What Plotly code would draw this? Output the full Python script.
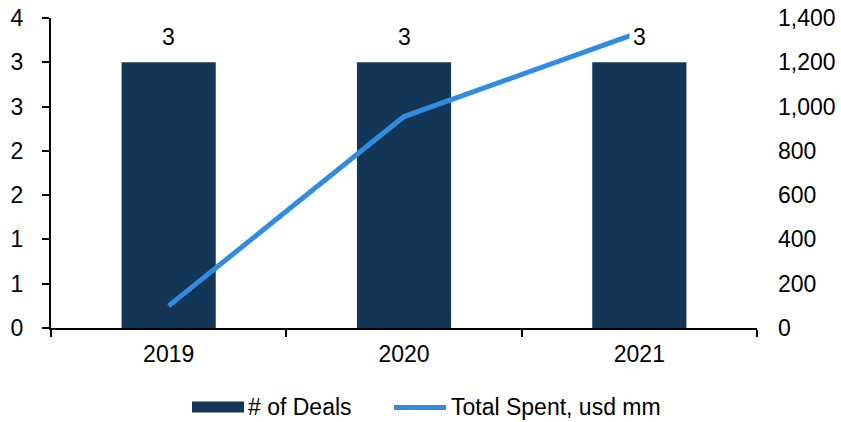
import plotly.graph_objects as go

# Chart data
years = ["2019", "2020", "2021"]
deals = [3, 3, 3]
total_spent = [100, 955, 1335]

# Left axis: half-step ticks, labels shown rounded to whole numbers
left_tick_vals = [0, 0.5, 1, 1.5, 2, 2.5, 3, 3.5]
left_tick_text = ["0", "1", "1", "2", "2", "3", "3", "4"]
right_tick_vals = [0, 200, 400, 600, 800, 1000, 1200, 1400]
right_tick_text = ["0", "200", "400", "600", "800", "1,000", "1,200", "1,400"]

BAR_COLOR = "#133657"
LINE_COLOR = "#318CE0"
FONT = "Liberation Sans, Arial, sans-serif"
FS = 23

W, H = 841, 422
ML, MR, MT, MB = 51, 84, 18, 94
PW, PH = W - ML - MR, H - MT - MB


def px_x(x):
    return (x - ML) / PW


def px_y(y):
    return (H - MB - y) / PH


fig = go.Figure()
fig.add_trace(go.Bar(
    x=years, y=deals, name="# of Deals",
    marker=dict(color=BAR_COLOR, line=dict(width=0)),
    showlegend=False,
))
fig.add_trace(go.Scatter(
    x=years, y=total_spent, name="Total Spent, usd mm", yaxis="y2",
    mode="lines", line=dict(color=LINE_COLOR, width=5),
    showlegend=False,
))

annotations = []
# Value labels above the bars (x given as category index)
for i, v in enumerate(deals):
    annotations.append(dict(
        x=i, y=v, xref="x", yref="y", text=str(v), showarrow=False,
        yshift=25, font=dict(family=FONT, size=FS, color="black"),
        bgcolor="white", borderpad=3,
    ))

# Legend drawn below the plot
legend_y = 407
shapes = [
    dict(type="rect", xref="paper", yref="paper",
         x0=px_x(192), x1=px_x(244), y0=px_y(412.5), y1=px_y(401.5),
         fillcolor=BAR_COLOR, line=dict(width=0)),
    dict(type="line", xref="paper", yref="paper",
         x0=px_x(394), x1=px_x(446), y0=px_y(legend_y + 0.5), y1=px_y(legend_y + 0.5),
         line=dict(color=LINE_COLOR, width=5)),
]
annotations.append(dict(
    x=px_x(246), y=px_y(legend_y), xref="paper", yref="paper",
    text="# of Deals", showarrow=False, xanchor="left", yanchor="middle",
    font=dict(family=FONT, size=FS, color="black"),
))
annotations.append(dict(
    x=px_x(449), y=px_y(legend_y), xref="paper", yref="paper",
    text="Total Spent, usd mm", showarrow=False, xanchor="left", yanchor="middle",
    font=dict(family=FONT, size=FS, color="black"),
))

fig.update_layout(
    width=W, height=H,
    margin=dict(l=ML, r=MR, t=MT, b=MB, pad=0, autoexpand=False),
    paper_bgcolor="white", plot_bgcolor="white",
    font=dict(family=FONT, size=FS, color="black"),
    bargap=0.6,
    showlegend=False,
    xaxis=dict(
        type="category", range=[-0.5, 2.5], showgrid=False, zeroline=False,
        showline=True, linecolor="black", linewidth=2, automargin=False,
        ticks="outside", tickson="boundaries", ticklen=7, tickwidth=2,
        tickcolor="black", ticklabelstandoff=4, tickangle=0,
    ),
    yaxis=dict(
        range=[0, 3.5], tickvals=left_tick_vals, ticktext=left_tick_text,
        showgrid=False, zeroline=False, automargin=False,
        showline=True, linecolor="black", linewidth=2,
        ticks="outside", ticklen=7, tickwidth=2, tickcolor="black",
        ticklabelstandoff=14,
    ),
    yaxis2=dict(
        range=[0, 1400], tickvals=right_tick_vals, ticktext=right_tick_text,
        overlaying="y", side="right", showgrid=False, zeroline=False,
        automargin=False, showline=False, ticks="", ticklabelstandoff=20,
    ),
    shapes=shapes,
    annotations=annotations,
)

fig.write_html("out.html")
